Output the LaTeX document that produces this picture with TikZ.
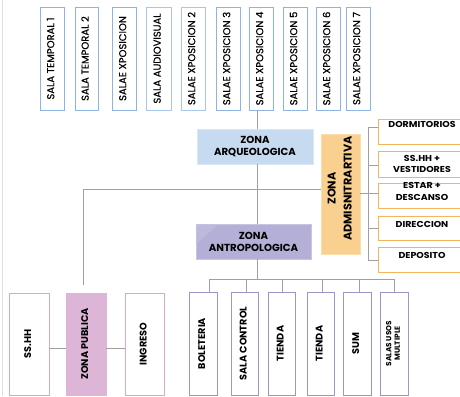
\documentclass[tikz,border=0pt]{standalone}
\usepackage{fontspec}
\setmainfont{Poppins}
\newfontfamily\topfont[FakeBold=0.5]{Poppins}
\newfontfamily\rfont[FakeStretch=1.1]{Poppins}
\definecolor{topblue}{HTML}{8DB4E2}
\definecolor{topblue2}{HTML}{A8C7EA}
\definecolor{arqfill}{HTML}{C6DBEF}
\definecolor{arqdraw}{HTML}{D9E7F4}
\definecolor{antfill}{HTML}{B3AFD6}
\definecolor{antlight}{HTML}{BDB9DD}
\definecolor{antdraw}{HTML}{C8C4E2}
\definecolor{admfill}{HTML}{F9D08F}
\definecolor{admdraw}{HTML}{FBDDAE}
\definecolor{orangeb}{HTML}{F4B459}
\definecolor{pubfill}{HTML}{DDB6D7}
\definecolor{pinkb}{HTML}{DBA6D0}
\definecolor{purpleb}{HTML}{9E96C9}
\definecolor{linegray}{HTML}{A0A0A0}
\newcommand{\vtext}[1]{\rotatebox{90}{\begin{tabular}{@{}c@{}}#1\end{tabular}}}
\tikzset{
  box/.style={inner sep=0pt, outer sep=0pt, line width=0.9pt, align=center},
  topbox/.style={box, draw=topblue, fill=white, minimum height=103pt, font=\topfont\fontsize{10}{11}\selectfont},
  zonebox/.style={box, font=\bfseries\fontsize{10.2}{12}\selectfont},
  rbox/.style={box, draw=orangeb, fill=white, minimum width=88pt},
  rtext/.style={font=\rfont\bfseries\fontsize{8.6}{11.5}\selectfont, align=center, inner sep=0pt},
  pbox/.style={box, draw=pinkb, fill=white, minimum height=102pt, minimum width=40pt, font=\bfseries\fontsize{9.7}{11}\selectfont},
  ubox/.style={box, draw=purpleb, fill=white, minimum height=103pt, font=\bfseries\fontsize{9.7}{11}\selectfont},
  conn/.style={draw=linegray, line width=1pt},
}
\begin{document}
\begin{tikzpicture}[x=1pt,y=-1pt]
\useasboundingbox (0,0) rectangle (460,396);
\clip (0,0) rectangle (460,396);
\draw[color=black!12, line width=0.8pt] (2.5,0) -- (2.5,396);
% top boxes
\node[topbox, minimum width=24pt] (t1) at (52,58.5) {\vtext{SALA TEMPORAL 1}};
\node[topbox, minimum width=23pt] (t2) at (86.5,58.5) {\vtext{SALA TEMPORAL 2}};
\node[topbox, minimum width=24pt] (t3) at (124,58.5) {\vtext{SALAE XPOSICION}};
\node[topbox, minimum width=25pt, draw=topblue2] (t4) at (158.5,58.5) {\vtext{SALA AUDIOVISUAL}};
\node[topbox, minimum width=24pt, draw=topblue2] (t5) at (193,58.5) {\vtext{SALAE XPOSICION 2}};
\node[topbox, minimum width=24pt] (t6) at (228,58.5) {\vtext{SALAE XPOSICION 3}};
\node[topbox, minimum width=24pt] (t7) at (261,58.5) {\vtext{SALAE XPOSICION 4}};
\node[topbox, minimum width=24pt] (t8) at (295,58.5) {\vtext{SALAE XPOSICION 5}};
\node[topbox, minimum width=24pt] (t9) at (328,58.5) {\vtext{SALAE XPOSICION 6}};
\node[topbox, minimum width=24pt] (t10) at (358,58.5) {\vtext{SALAE XPOSICION 7}};
% zones
\node[zonebox, draw=arqdraw, fill=arqfill, minimum width=116pt, minimum height=35pt] (arq) at (255,146.5) {ZONA\\ARQUEOLOGICA};
\node[box, draw=antdraw, fill=antfill, minimum width=115pt, minimum height=35pt] (ant) at (253.5,241.5) {};
\fill[antlight] ([shift={(0.5,0.5)}]ant.north west) -- ++(22,0) -- ++(-22,19) -- cycle;
\node[zonebox, align=center] (anttxt) at (ant.center) {ZONA\\ANTROPOLOGICA};
\node[box, draw=admdraw, fill=admfill, minimum width=39pt, minimum height=120pt] (adm) at (340.5,194) {};
\node[font=\bfseries\fontsize{11.2}{16}\selectfont, inner sep=0pt] (admtxt) at (340.5,188.5) {\vtext{ZONA\\ADMISNITRARTIVA}};
% right boxes
\node[rbox, minimum height=25pt] (r1) at (422,131.5) {};
\node[rtext] (r1t) at (r1.north) [below=2.5pt] {DORMITORIOS};
\node[rbox, minimum height=26pt] (r2) at (422,164) {};
\node[rtext] (r2t) at (r2.center) {SS.HH +\\VESTIDORES};
\node[rbox, minimum height=25pt] (r3) at (422,195.5) {};
\node[rtext] (r3t) at (r3.north) [below=-0.5pt] {ESTAR +\\DESCANSO};
\node[rbox, minimum height=24pt] (r4) at (422,228) {};
\node[rtext] (r4t) at (r4.north) [below=5pt] {DIRECCION};
\node[rbox, minimum height=25pt] (r5) at (422,259.5) {};
\node[rtext] (r5t) at (r5.north) [below=5pt] {DEPOSITO};
% bottom left
\node[pbox] (ss) at (29,344) {\vtext{SS.HH}};
\node[pbox, fill=pubfill, draw=pubfill] (pub) at (86,344) {\vtext{ZONA PUBLICA}};
\node[pbox, minimum width=39pt] (ing) at (144.5,344) {\vtext{INGRESO}};
% bottom right
\node[ubox, minimum width=28pt] (b1) at (203,343.5) {\vtext{BOLETERIA}};
\node[ubox, minimum width=27pt] (b2) at (244.5,343.5) {\vtext{SALA CONTROL}};
\node[ubox, minimum width=27pt] (b3) at (281.5,343.5) {\vtext{TIENDA}};
\node[ubox, minimum width=27pt] (b4) at (320.5,343.5) {\vtext{TIENDA}};
\node[ubox, minimum width=28pt] (b5) at (357,343.5) {\vtext{SUM}};
\node[ubox, minimum width=28pt, font=\bfseries\fontsize{7.4}{8.5}\selectfont] (b6) at (394,343.5) {\vtext{SALAS USOS\\MULTIPLE}};
% connector coordinates
\coordinate (spine) at (257,0);
\coordinate (lft) at (83,189);
\coordinate (lftend) at (83,285);
\coordinate (bbr) at (0,279);
% connectors
\draw[conn] (spine |- t7.south) -- (spine |- arq.north);
\draw[conn] (spine |- arq.south) -- (spine |- ant.north);
\draw[conn] (lftend) -- (lft) -- (lft -| adm.west);
\draw[conn] (spine |- ant.south) -- (spine |- bbr);
\draw[conn] (209,279) -- (394,279);
\foreach \x/\n in {209/b1,246/b2,282/b3,322/b4,359/b5,394/b6}
  \draw[conn] (\x,279) -- (\x,0 |- \n.north);
\draw[conn] (adm.east |- 0,193) -- (368,193);
\draw[conn] (368,127) -- (368,260);
\draw[conn] (368,127) -- (r1.west |- 0,127);
\draw[conn] (368,165) -- (r2.west |- 0,165);
\draw[conn] (368,193) -- (r3.west |- 0,193);
\draw[conn] (368,228) -- (r4.west);
\draw[conn] (368,260) -- (r5.west |- 0,260);
\draw[conn] (ss.east |- 0,348) -- (pub.west |- 0,348);
\draw[conn] (pub.east |- 0,348) -- (ing.west |- 0,348);
\end{tikzpicture}
\end{document}
